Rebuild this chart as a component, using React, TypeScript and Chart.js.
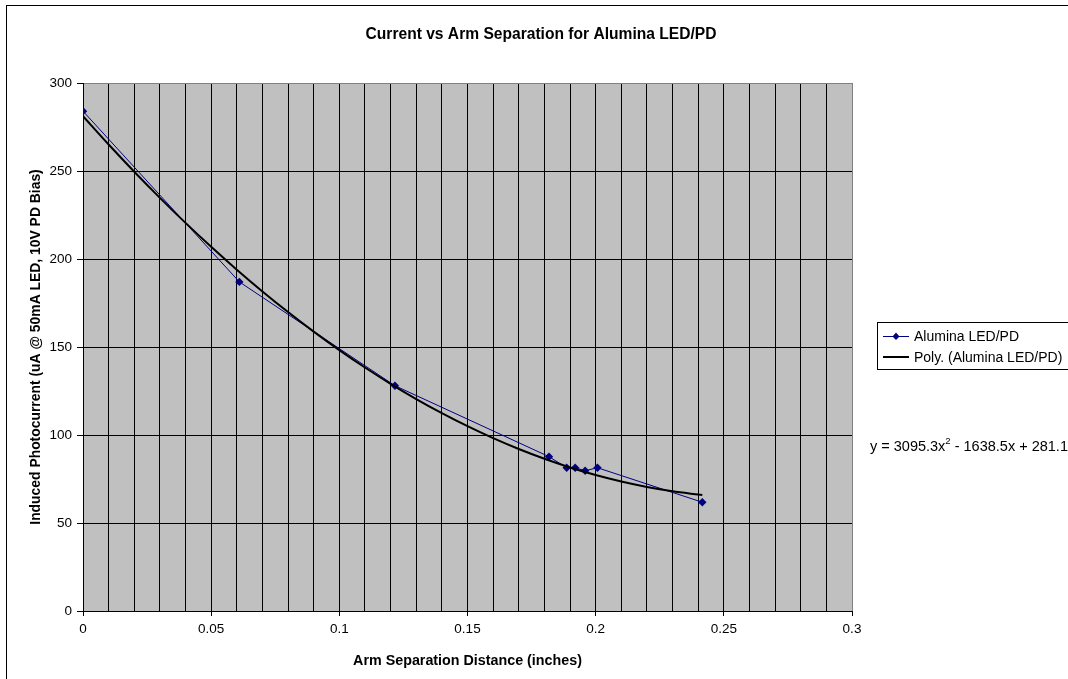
import React, { useEffect, useRef } from "react";
import { Chart, registerables } from "chart.js";

Chart.register(...registerables);

// Measured data (arm separation in inches, photocurrent in uA)
const DIST = [0, 0.061, 0.1217, 0.1818, 0.1887, 0.192, 0.1959, 0.2007, 0.2416];
const CURRENT = [284, 187, 128, 87.7, 81.4, 81.4, 79.7, 81.4, 61.8];

// Polynomial trendline as drawn (y = 3095.3x^2 - 1638.5x + 281.12)
const TREND_X = [0, 0.01, 0.02, 0.03, 0.04, 0.05, 0.06, 0.07, 0.08, 0.09, 0.1, 0.11, 0.12, 0.13, 0.14, 0.15, 0.16, 0.17, 0.18, 0.19, 0.2, 0.21, 0.22, 0.23, 0.24, 0.2416];
const TREND_Y = [281.12, 265.04, 249.59, 234.75, 220.53, 206.93, 193.95, 181.59, 169.85, 158.73, 148.22, 138.34, 129.07, 120.43, 112.4, 104.99, 98.2, 92.03, 86.48, 81.55, 77.23, 73.54, 70.46, 68.01, 66.17, 65.9];

const TITLE = "Current vs Arm Separation for Alumina LED/PD";
const X_TITLE = "Arm Separation Distance (inches)";
const Y_TITLE = "Induced Photocurrent (uA @ 50mA LED, 10V PD Bias)";
const SERIES_NAME = "Alumina LED/PD";
const TREND_NAME = "Poly. (Alumina LED/PD)";
const EQ_PARTS = ["y = 3095.3x", "2", " - 1638.5x + 281.12"];

const X_MIN = 0, X_MAX = 0.3, X_STEP = 0.01, X_LABEL_STEP = 0.05;
const Y_MIN = 0, Y_MAX = 300, Y_STEP = 50;

const FONT = '"Liberation Sans", Arial, sans-serif';
const NAVY = "#000080";

function isMajor(v: number) {
  const r = v / X_LABEL_STEP;
  return Math.abs(r - Math.round(r)) < 1e-6;
}

const decorPlugin = {
  id: "decor",
  beforeDraw(chart: any) {
    const { ctx, chartArea: ca } = chart;
    ctx.save();
    ctx.fillStyle = "#ffffff";
    ctx.fillRect(0, 0, chart.width, chart.height);
    ctx.fillStyle = "#C0C0C0";
    ctx.fillRect(ca.left, ca.top, ca.right - ca.left, ca.bottom - ca.top);
    ctx.restore();
  },
  afterDraw(chart: any) {
    const { ctx, chartArea: ca } = chart;
    ctx.save();
    // outer frame
    ctx.strokeStyle = "#000";
    ctx.lineWidth = 1;
    ctx.strokeRect(6.5, 5.5, 1200, 800);

    // chart title
    ctx.fillStyle = "#000";
    ctx.font = `bold 15.6px ${FONT}`;
    ctx.textAlign = "center";
    ctx.textBaseline = "middle";
    ctx.fillText(TITLE, 541, 35);

    // x title
    ctx.font = `bold 14.3px ${FONT}`;
    ctx.fillText(X_TITLE, (ca.left + ca.right) / 2, 661);

    // y title
    ctx.save();
    ctx.translate(36, (ca.top + ca.bottom) / 2);
    ctx.rotate(-Math.PI / 2);
    ctx.font = `bold 13.9px ${FONT}`;
    ctx.fillText(Y_TITLE, 0, 0);
    ctx.restore();

    // legend
    ctx.strokeStyle = "#000";
    ctx.lineWidth = 1;
    ctx.strokeRect(877.5, 322.5, 300, 47);
    ctx.font = `14px ${FONT}`;
    ctx.textAlign = "left";
    ctx.textBaseline = "middle";
    // series 1
    const y1 = 336, y2 = 357;
    ctx.strokeStyle = NAVY;
    ctx.beginPath();
    ctx.moveTo(883, y1 + 0.5);
    ctx.lineTo(909, y1 + 0.5);
    ctx.stroke();
    ctx.fillStyle = NAVY;
    ctx.beginPath();
    ctx.moveTo(896, y1 - 3.5);
    ctx.lineTo(899.5, y1 + 0.5);
    ctx.lineTo(896, y1 + 4);
    ctx.lineTo(892.5, y1 + 0.5);
    ctx.closePath();
    ctx.fill();
    ctx.fillStyle = "#000";
    ctx.fillText(SERIES_NAME, 914, y1 + 1);
    // trend
    ctx.strokeStyle = "#000";
    ctx.lineWidth = 2;
    ctx.beginPath();
    ctx.moveTo(883, y2);
    ctx.lineTo(909, y2);
    ctx.stroke();
    ctx.fillText(TREND_NAME, 914, y2 + 1);

    // equation
    let x = 870;
    const ey = 447;
    ctx.font = `14.5px ${FONT}`;
    ctx.fillText(EQ_PARTS[0], x, ey);
    x += ctx.measureText(EQ_PARTS[0]).width;
    ctx.font = `9.5px ${FONT}`;
    ctx.fillText(EQ_PARTS[1], x, ey - 6);
    x += ctx.measureText(EQ_PARTS[1]).width;
    ctx.font = `14.5px ${FONT}`;
    ctx.fillText(EQ_PARTS[2], x, ey);
    ctx.restore();
  },
};

export default function App() {
  const ref = useRef<HTMLCanvasElement | null>(null);
  useEffect(() => {
    document.body.style.margin = "0";
    const canvas = ref.current!;
    const chart = new Chart(canvas, {
      type: "scatter",
      data: {
        datasets: [
          {
            label: SERIES_NAME,
            data: DIST.map((d, i) => ({ x: d, y: CURRENT[i] })),
            showLine: true,
            borderColor: NAVY,
            backgroundColor: NAVY,
            borderWidth: 1,
            pointStyle: "rectRot",
            pointRadius: 4.2,
            pointBorderWidth: 0,
            order: 1,
          },
          {
            label: TREND_NAME,
            data: TREND_X.map((d, i) => ({ x: d, y: TREND_Y[i] })),
            showLine: true,
            borderColor: "#000",
            borderWidth: 2,
            pointRadius: 0,
            tension: 0.3,
            order: 0,
          },
        ],
      },
      options: {
        responsive: false,
        animation: false,
        layout: { padding: { left: 0, right: 216, top: 83, bottom: 0 } },
        plugins: {
          legend: { display: false },
          title: { display: false },
          tooltip: { enabled: false },
        },
        scales: {
          x: {
            type: "linear",
            min: X_MIN,
            max: X_MAX,
            afterFit: (s: any) => { s.height = 68; },
            afterBuildTicks: (s: any) => {
              const t = [];
              for (let i = 0; i <= Math.round((X_MAX - X_MIN) / X_STEP); i++) {
                t.push({ value: +(X_MIN + i * X_STEP).toFixed(4) });
              }
              s.ticks = t;
            },
            ticks: {
              autoSkip: false,
              maxRotation: 0,
              padding: 5,
              color: "#000",
              font: { family: FONT, size: 13.5 },
              callback: (v: any) => (isMajor(Number(v)) ? String(Math.round(Number(v) * 100) / 100) : ""),
            },
            grid: {
              color: (c: any) => (c.tick && Math.abs(c.tick.value - X_MAX) < 1e-9 ? "#808080" : "#000"),
              tickColor: (c: any) => (c.tick && isMajor(c.tick.value) ? "#000" : "rgba(0,0,0,0)"),
              tickLength: 5,
              lineWidth: 1,
            },
            border: { color: "#000", width: 1 },
          },
          y: {
            type: "linear",
            min: Y_MIN,
            max: Y_MAX,
            afterFit: (s: any) => { s.width = 83; },
            ticks: {
              stepSize: Y_STEP,
              padding: 5,
              color: "#000",
              font: { family: FONT, size: 13.5 },
            },
            grid: {
              color: (c: any) => (c.tick && c.tick.value === Y_MAX ? "#808080" : "#000"),
              tickColor: "#000",
              tickLength: 6,
              lineWidth: 1,
            },
            border: { color: "#000", width: 1 },
          },
        },
      },
      plugins: [decorPlugin],
    } as any);
    return () => chart.destroy();
  }, []);
  return (
    <canvas
      ref={ref}
      width={1068}
      height={679}
      style={{ position: "fixed", left: 0, top: 0, display: "block" }}
    />
  );
}
